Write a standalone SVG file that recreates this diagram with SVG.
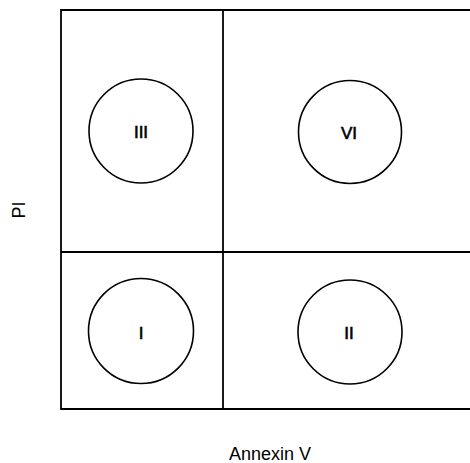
<svg xmlns="http://www.w3.org/2000/svg" width="470" height="463" viewBox="0 0 470 463">
<style>
.frame{fill:none;stroke:#000;stroke-width:1.8}
.gate{fill:none;stroke:#000;stroke-width:1.6}
.lbl{font-family:"Liberation Sans",Arial,sans-serif;fill:#000;text-anchor:middle}
.num{font-size:17px}
.axis{font-size:18px}
</style>
<rect width="470" height="463" fill="#fff"/>
<g id="frame">
<path class="frame" d="M470 10 H61 V409 H470"/>
<line class="frame" x1="223" y1="10" x2="223" y2="409"/>
<line class="frame" x1="61" y1="252" x2="470" y2="252"/>
</g>
<g id="q3"><circle class="gate" cx="141" cy="131" r="52"/><text class="lbl num" x="141" y="138" stroke="#000" stroke-width="0.6">III</text></g>
<g id="q6"><circle class="gate" cx="350" cy="132" r="51.5"/><text class="lbl num" x="349" y="139" stroke="#000" stroke-width="0.6">VI</text></g>
<g id="q1"><circle class="gate" cx="141" cy="331" r="52.5"/><text class="lbl num" x="141" y="339" stroke="#000" stroke-width="0.6">I</text></g>
<g id="q2"><circle class="gate" cx="350" cy="332" r="52"/><text class="lbl num" x="349" y="339" stroke="#000" stroke-width="0.6">II</text></g>
<text class="lbl axis" x="270" y="460">Annexin V</text>
<text class="lbl axis" transform="translate(25 210) rotate(-90)">PI</text>
</svg>
